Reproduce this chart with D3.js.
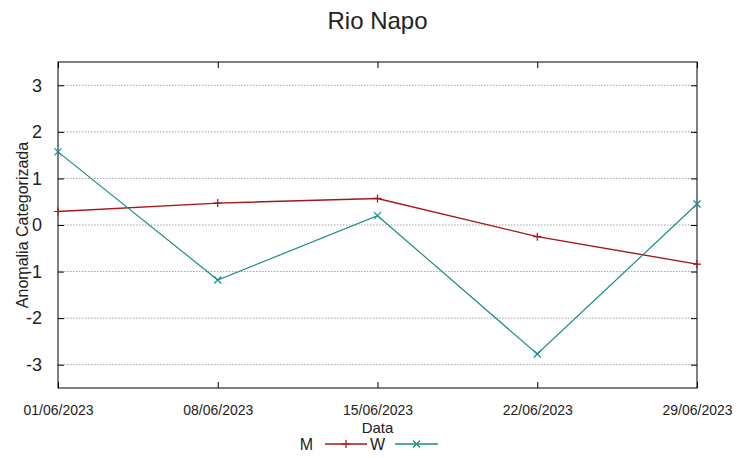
<!DOCTYPE html>
<html>
<head>
<meta charset="utf-8">
<script src="https://cdn.jsdelivr.net/npm/d3@7"></script>
<style>
  body { margin: 0; background: #fff; }
  text { font-family: "Liberation Sans", Arial, sans-serif; fill: #222; }
</style>
</head>
<body>
<div id="chart"></div>
<script>
// data
var dates = ["01/06/2023", "08/06/2023", "15/06/2023", "22/06/2023", "29/06/2023"];
var seriesM = [0.29, 0.47, 0.57, -0.25, -0.84];
var seriesW = [1.57, -1.18, 0.2, -2.77, 0.45];
var yTicks = [-3, -2, -1, 0, 1, 2, 3];

var W = 752, H = 458;
var margin = { top: 62, right: 55, bottom: 70, left: 58 },
    width = W - margin.left - margin.right,
    height = H - margin.top - margin.bottom;

var parse = d3.timeParse("%d/%m/%Y");
var fmt = d3.timeFormat("%d/%m/%Y");
var days = dates.map(parse);

var svgRoot = d3.select("#chart").append("svg")
    .attr("width", W)
    .attr("height", H);

var svg = svgRoot.append("g")
    .attr("transform", "translate(" + margin.left + "," + margin.top + ")");

var x = d3.scaleTime()
    .domain([days[0], days[days.length - 1]])
    .range([0, width]);

var y = d3.scaleLinear()
    .domain([-3.5, 3.5])
    .range([height, 0]);

// grid
svg.selectAll("line.grid")
    .data(yTicks)
    .enter().append("line")
    .attr("class", "grid")
    .attr("x1", 0).attr("x2", width)
    .attr("y1", d => y(d)).attr("y2", d => y(d))
    .style("stroke", "#a0a0a0")
    .style("stroke-width", 1)
    .style("stroke-dasharray", "1.5,1.5");

// axes (gnuplot style: inward ticks, mirrored)
var yAxisL = svg.append("g")
    .call(d3.axisLeft(y).tickValues(yTicks).tickSize(-6).tickPadding(16).tickFormat(d => String(d)));
var yAxisR = svg.append("g")
    .attr("transform", "translate(" + width + ",0)")
    .call(d3.axisRight(y).tickValues(yTicks).tickSize(-6).tickFormat(""));
var xAxisB = svg.append("g")
    .attr("transform", "translate(0," + height + ")")
    .call(d3.axisBottom(x).tickValues(days).tickSize(-6).tickPadding(16).tickFormat(fmt));
var xAxisT = svg.append("g")
    .call(d3.axisTop(x).tickValues(days).tickSize(-6).tickFormat(""));

[yAxisL, yAxisR, xAxisB, xAxisT].forEach(function(g) {
    g.select(".domain").remove();
    g.selectAll(".tick line").style("stroke", "#000");
});

yAxisL.selectAll("text")
    .style("font-size", "18px")
    .style("fill", "#222");

xAxisB.selectAll("text")
    .style("font-size", "15px")
    .style("fill", "#222")
    .attr("textLength", 70)
    .attr("lengthAdjust", "spacingAndGlyphs");

// border
svg.append("rect")
    .attr("width", width)
    .attr("height", height)
    .style("fill", "none")
    .style("stroke", "#000")
    .style("stroke-width", 1);

// lines
var line = d3.line()
    .x((d, i) => x(days[i]))
    .y(d => y(d));

var colM = "#a51616", colW = "#1b8b8b";

svg.append("path")
    .datum(seriesM)
    .attr("d", line)
    .style("fill", "none")
    .style("stroke", colM)
    .style("stroke-width", 1.4);

svg.append("path")
    .datum(seriesW)
    .attr("d", line)
    .style("fill", "none")
    .style("stroke", colW)
    .style("stroke-width", 1.2);

// markers
var plus = "M-4,0H4M0,-4V4";
var cross = "M-3.5,-3.5L3.5,3.5M-3.5,3.5L3.5,-3.5";

svg.selectAll("path.mM")
    .data(seriesM)
    .enter().append("path")
    .attr("class", "mM")
    .attr("d", plus)
    .attr("transform", (d, i) => "translate(" + x(days[i]) + "," + y(d) + ")")
    .style("stroke", colM)
    .style("stroke-width", 1.2);

svg.selectAll("path.mW")
    .data(seriesW)
    .enter().append("path")
    .attr("class", "mW")
    .attr("d", cross)
    .attr("transform", (d, i) => "translate(" + x(days[i]) + "," + y(d) + ")")
    .style("stroke", colW)
    .style("stroke-width", 1.2);

// title and axis labels
svgRoot.append("text")
    .attr("x", margin.left + width / 2)
    .attr("y", 29)
    .attr("text-anchor", "middle")
    .style("font-size", "24px")
    .text("Rio Napo");

svgRoot.append("text")
    .attr("transform", "translate(28," + (margin.top + height / 2) + ") rotate(-90)")
    .attr("text-anchor", "middle")
    .style("font-size", "16px")
    .text("Anomalia Categorizada");

svgRoot.append("text")
    .attr("x", margin.left + width / 2)
    .attr("y", 433)
    .attr("text-anchor", "middle")
    .style("font-size", "15px")
    .text("Data");

// legend
var legend = [
    { name: "M", color: colM, mark: plus, tx: 313, x0: 325, x1: 367 },
    { name: "W", color: colW, mark: cross, tx: 385, x0: 395, x1: 438 }
];
var ly = 444;
var lg = svgRoot.selectAll("g.legend")
    .data(legend)
    .enter().append("g")
    .attr("class", "legend");

lg.append("text")
    .attr("x", d => d.tx)
    .attr("y", ly + 6)
    .attr("text-anchor", "end")
    .style("font-size", "16px")
    .text(d => d.name);

lg.append("line")
    .attr("x1", d => d.x0).attr("x2", d => d.x1)
    .attr("y1", ly).attr("y2", ly)
    .style("stroke", d => d.color)
    .style("stroke-width", 1.3);

lg.append("path")
    .attr("d", d => d.mark)
    .attr("transform", d => "translate(" + ((d.x0 + d.x1) / 2) + "," + ly + ")")
    .style("stroke", d => d.color)
    .style("stroke-width", 1.2);
</script>
</body>
</html>
